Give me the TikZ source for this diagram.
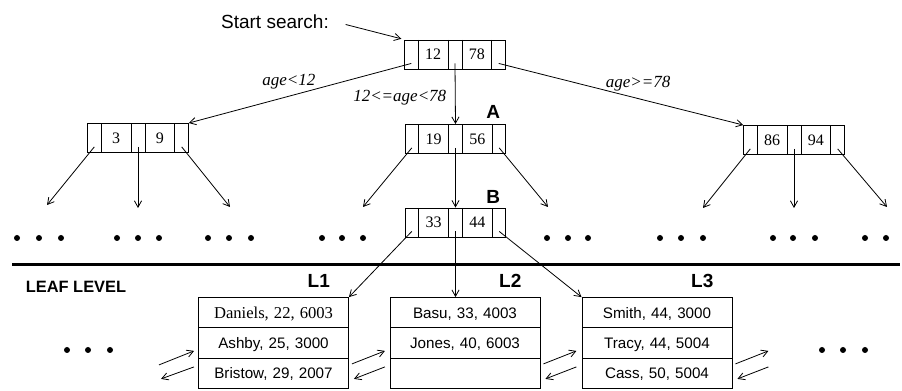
\documentclass[tikz,border=0pt]{standalone}
\usepackage{fontspec}
\setmainfont{Liberation Serif}
\setsansfont{Liberation Sans}
\usetikzlibrary{positioning,arrows.meta,shapes.multipart,calc}

\newcommand{\ptrcell}{\rule[-4.5pt]{0pt}{14.5pt}\makebox[6.5pt]{}}
\newcommand{\keycell}[1]{\rule[-4.5pt]{0pt}{14.5pt}\makebox[14.5pt]{#1}}
\newcommand{\rowstrut}{\rule[-4.5pt]{0pt}{14.7pt}}

\begin{document}
\begin{tikzpicture}[
    x=0.5pt, y=0.5pt,
    inode/.style={rectangle split, rectangle split horizontal, rectangle split parts=5,
      draw, line width=0.45pt, inner xsep=0pt, inner ysep=0pt, font=\fontsize{8}{9}\selectfont},
    leaf/.style={rectangle split, rectangle split parts=3, draw, line width=0.45pt,
      text width=75pt, align=center, inner xsep=0pt, inner ysep=0pt,
      font=\sffamily\fontsize{7.6}{9}\selectfont},
    cond/.style={font=\itshape\fontsize{8.5}{10}\selectfont},
    tag/.style={font=\sffamily\bfseries\fontsize{9.5}{11}\selectfont},
    arr/.style={line width=0.4pt, -{Straight Barb[length=3.2pt,width=3.6pt]}},
    dot/.style={radius=3}
  ]
  \useasboundingbox (0,0) rectangle (902,391);

  % index levels
  \node[inode] (root) at (455,336.5) {\ptrcell\nodepart{two}\keycell{12}\nodepart{three}\ptrcell\nodepart{four}\keycell{78}\nodepart{five}\ptrcell};
  \node[inode] (lft) at (138,253) {\ptrcell\nodepart{two}\keycell{3}\nodepart{three}\ptrcell\nodepart{four}\keycell{9}\nodepart{five}\ptrcell};
  \node[inode] (A) at (455.5,252) {\ptrcell\nodepart{two}\keycell{19}\nodepart{three}\ptrcell\nodepart{four}\keycell{56}\nodepart{five}\ptrcell};
  \node[inode] (rgt) at (794,251) {\ptrcell\nodepart{two}\keycell{86}\nodepart{three}\ptrcell\nodepart{four}\keycell{94}\nodepart{five}\ptrcell};
  \node[inode] (B) at (455.5,168.5) {\ptrcell\nodepart{two}\keycell{33}\nodepart{three}\ptrcell\nodepart{four}\keycell{44}\nodepart{five}\ptrcell};

  \node[font=\sffamily\fontsize{9.5}{11}\selectfont] (start) at (275,369) {Start search:};
  \node[tag] (tagA) at ($(A.north east)+(-13,12)$) {A};
  \node[tag] (tagB) at ($(B.north east)+(-13,11)$) {B};

  \draw[arr, shorten <=5pt, shorten >=1.5pt] (start.east) -- (root.north west);
  \draw[arr] ($(root.south west)+(7,6)$) -- (lft.north east) node[cond, pos=0.55, above=0pt] (c1) {age<12};
  \draw[arr] ($(root.south)+(0,6)$) -- (A.north) node[cond, pos=0.57, left=1pt] (c2) {12<=age<78};
  \draw[arr] ($(root.south east)+(-7,6)$) -- (rgt.north west) node[cond, pos=0.57, above=0pt] (c3) {age>=78};

  % free ends of the child pointers
  \coordinate (l1) at (47,186);
  \coordinate (l2) at (138,183);
  \coordinate (l3) at (230,184);
  \coordinate (a1) at (363,184);
  \coordinate (a3) at (548,184);
  \coordinate (r1) at (703,183);
  \coordinate (r2) at (794,183);
  \coordinate (r3) at (887,184);

  \draw[arr] ($(lft.south west)+(7,6)$) -- (l1);
  \draw[arr] ($(lft.south)+(0,6)$) -- (l2);
  \draw[arr] ($(lft.south east)+(-7,6)$) -- (l3);
  \draw[arr] ($(A.south west)+(7,6)$) -- (a1);
  \draw[arr] ($(A.south)+(0,6)$) -- (B.north);
  \draw[arr] ($(A.south east)+(-7,6)$) -- (a3);
  \draw[arr] ($(rgt.south west)+(7,6)$) -- (r1);
  \draw[arr] ($(rgt.south)+(0,6)$) -- (r2);
  \draw[arr] ($(rgt.south east)+(-7,6)$) -- (r3);

  \foreach \x in {17,39,61,117,138,159,208,229,251,322,342,363,547,568,588,660,681,703,773,793,815,865,886}
    \fill (\x,153) circle[dot];

  % leaf level
  \draw[line width=1.5pt] (12,126) -- (900,126);
  \node[font=\sffamily\bfseries\fontsize{8.2}{10}\selectfont] (leaflvl) at (76,104) {LEAF LEVEL};

  \node[leaf] (L1) at (273.5,48) {\rowstrut{\rmfamily\fontsize{8.3}{10}\selectfont Daniels, 22, 6003}\nodepart{two}\rowstrut Ashby, 25, 3000\nodepart{three}\rowstrut Bristow, 29, 2007};
  \node[leaf] (L2) at (465,48) {\rowstrut Basu, 33, 4003\nodepart{two}\rowstrut Jones, 40, 6003\nodepart{three}\rowstrut};
  \node[leaf] (L3) at (657,48) {\rowstrut Smith, 44, 3000\nodepart{two}\rowstrut Tracy, 44, 5004\nodepart{three}\rowstrut Cass, 50, 5004};

  \foreach \b/\t in {L1/L1,L2/L2,L3/L3}
    \node[tag, anchor=base east] (tag\b) at ($(\b.north east)+(-12,10)$) {\t};

  \draw[arr] ($(B.south west)+(7,6)$) -- (L1.north east);
  \draw[arr] ($(B.south)+(0,6)$) -- (B.south |- L2.north);
  \draw[arr] ($(B.south east)+(-7,6)$) -- (L3.north west);

  % sibling pointers
  \draw[arr] ($(L1.south west)+(-39,24)$) -- ($(L1.south west)+(-4,38)$);
  \draw[arr] ($(L1.south west)+(-4,22)$) -- ($(L1.south west)+(-37,10)$);
  \foreach \b in {L1,L2,L3} {
    \draw[arr] ($(\b.south east)+(3,25)$) -- ($(\b.south east)+(36,38)$);
    \draw[arr] ($(\b.south east)+(36,22)$) -- ($(\b.south east)+(5,10)$);
  }

  \foreach \x in {67,88,110,822,843,865}
    \fill (\x,41) circle[dot];
\end{tikzpicture}
\end{document}
